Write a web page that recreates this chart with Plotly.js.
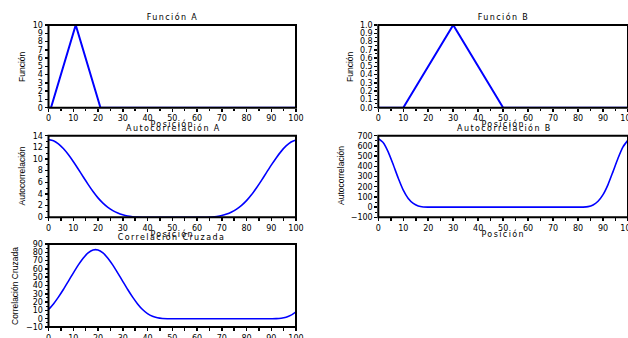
<!DOCTYPE html>
<html>
<head>
<meta charset="utf-8">
<script src="https://cdn.plot.ly/plotly-3.0.1.min.js"></script>
<style>
html,body{margin:0;padding:0;background:#fff;}
#chart{width:628px;height:338px;}
</style>
</head>
<body>
<div id="chart"></div>
<script>
// ---- data ----
const funcAx = [0, 1, 11, 21, 100];
const funcAy = [0, 0, 10, 0, 0];
const funcBx = [0, 10, 30, 50, 100];
const funcBy = [0, 0, 1, 0, 0];

const lagX = [0,2,4,6,8,10,12,14,16,18,20,22,24,26,28,30,32,34,36,38,40,42,44,46,48,50,
              52,54,56,58,60,62,64,66,68,70,72,74,76,78,80,82,84,86,88,90,92,94,96,98,100];

const autoA = [13.33,13.14,12.61,11.80,10.77,9.58,8.29,6.96,5.65,4.42,3.33,2.43,1.71,1.14,0.72,0.42,0.21,0.09,0.03,0.0,0,0,0,0,0,0,
               0,0,0,0,0,0,0.01,0.05,0.14,0.30,0.55,0.92,1.41,2.05,2.86,3.86,5.03,6.30,7.63,8.95,10.19,11.31,12.24,12.92,13.28];

const autoB = [670,631,539,415,283,167,85,36,11,1.3,0,0,0,0,0,0,0,0,0,0,0,0,0,0,0,0,
               0,0,0,0,0,0,0,0,0,0,0,0,0,0,0,0.2,4.5,21,57,122,221,348,479,590,657];

const cross = [11.08,17.86,26.04,35.23,45.01,54.98,64.55,72.92,79.28,82.85,82.85,79.28,72.92,64.55,54.98,45.01,35.23,26.04,17.86,11.08,6.08,2.86,1.04,0.23,0.01,0,
               0,0,0,0,0,0,0,0,0,0,0,0,0,0,0,0,0,0,0,0,0.07,0.53,1.80,4.27,8.33];

const panelTitles = ['Función A','Función B','Autocorrelación A','Autocorrelación B','Correlación Cruzada'];
const yTitles = ['Función','Función','Autocorrelación','Autocorrelación','Correlación Cruzada'];
const xTitle = 'Posición';

// ---- layout helpers ----
const W = 628, H = 338;
const px = v => v / W;
const py = v => 1 - v / H;
const blue = '#0000ff';
const tickFont = {family:'DejaVu Sans, sans-serif', size:8, color:'#000'};

function xa(domain, anchor){
  return {domain:domain, anchor:anchor, range:[0,100], dtick:10, tick0:0,
    showgrid:false, zeroline:false, showline:false,
    ticks:'outside', ticklen:3, tickwidth:1.5, tickcolor:'#000', tickfont:tickFont,
    ticklabeloverflow:'allow',
    minor:{dtick:5, ticks:'outside', ticklen:2.5, tickwidth:1.5, tickcolor:'#000'}, fixedrange:true};
}
function ya(domain, anchor, range, dtick, fmt){
  const o = {domain:domain, anchor:anchor, range:range, dtick:dtick, tick0:0,
    showgrid:false, zeroline:false, showline:false,
    ticks:'outside', ticklen:3, tickwidth:1.5, tickcolor:'#000', tickfont:tickFont,
    ticklabeloverflow:'allow',
    minor:{dtick:dtick/2, ticks:'outside', ticklen:2, tickwidth:1, tickcolor:'#000'}, fixedrange:true};
  if (fmt) o.tickformat = fmt;
  return o;
}

const dL = [px(48.5), px(296)];
const dR = [px(378.3), px(628)];
const row1 = [py(107.7), py(25)];
const row2 = [py(217.3), py(135.7)];
const row3 = [py(327), py(244)];

const lineW = 2, curveW = 1.6;
const traces = [
  {x:funcAx, y:funcAy, xaxis:'x', yaxis:'y', mode:'lines', line:{color:blue, width:lineW}},
  {x:funcBx, y:funcBy, xaxis:'x2', yaxis:'y2', mode:'lines', line:{color:blue, width:lineW}},
  {x:lagX, y:autoA, xaxis:'x3', yaxis:'y3', mode:'lines', line:{color:blue, width:curveW, shape:'spline', smoothing:0.6}},
  {x:lagX, y:autoB, xaxis:'x4', yaxis:'y4', mode:'lines', line:{color:blue, width:curveW, shape:'spline', smoothing:0.6}},
  {x:lagX, y:cross, xaxis:'x5', yaxis:'y5', mode:'lines', line:{color:blue, width:curveW, shape:'spline', smoothing:0.6}}
];

const titleFont = {family:'DejaVu Sans, sans-serif', size:8, color:'#000'};
const yTitleFont = {family:'Liberation Sans Narrow, Arial Narrow, Liberation Sans, sans-serif', size:8.5, color:'#000'};

function ann(text, cx, cy, font, angle){
  return {text:text, xref:'paper', yref:'paper', x:px(cx), y:py(cy), xanchor:'center', yanchor:'middle',
    showarrow:false, font:font, textangle:angle||0};
}

const spacedCount = 10; // first annotations get letter spacing (panel titles and x titles)
const annotations = [
  ann(panelTitles[0], 172, 17, titleFont),
  ann(panelTitles[1], 503, 17, titleFont),
  ann(panelTitles[2], 173, 127.5, titleFont),
  ann(panelTitles[3], 504, 127.5, titleFont),
  ann(panelTitles[4], 171, 236.5, titleFont),
  ann(xTitle, 172, 123.5, titleFont),
  ann(xTitle, 503, 123.5, titleFont),
  ann(xTitle, 172, 234, titleFont),
  ann(xTitle, 503, 233.5, titleFont),
  ann(xTitle, 172, 345, titleFont),
  ann(yTitles[0], 22, 67, yTitleFont, -90),
  ann(yTitles[1], 350, 67, yTitleFont, -90),
  ann(yTitles[2], 21.5, 176, yTitleFont, -90),
  ann(yTitles[3], 341, 176, yTitleFont, -90),
  ann(yTitles[4], 15, 286, yTitleFont, -90)
];

const shapes = ['', '2', '3', '4', '5'].map(function(s){
  return {type:'rect', xref:'x' + s + ' domain', yref:'y' + s + ' domain', x0:0, x1:1, y0:0, y1:1,
    line:{color:'#000', width:2}, fillcolor:'rgba(0,0,0,0)', layer:'above'};
});

const layout = {
  width:W, height:H, margin:{l:0, r:0, t:0, b:0}, showlegend:false,
  paper_bgcolor:'#fff', plot_bgcolor:'#fff',
  xaxis:xa(dL,'y'), yaxis:ya(row1,'x',[0,10],1),
  xaxis2:xa(dR,'y2'), yaxis2:ya(row1,'x2',[0,1],0.1,'.1f'),
  xaxis3:xa(dL,'y3'), yaxis3:ya(row2,'x3',[0,14],2),
  xaxis4:xa(dR,'y4'), yaxis4:ya(row2,'x4',[-100,700],100),
  xaxis5:xa(dL,'y5'), yaxis5:ya(row3,'x5',[-10,90],10),
  annotations:annotations, shapes:shapes
};
layout.yaxis.minor = {ticks:''};

Plotly.newPlot('chart', traces, layout, {staticPlot:true, displayModeBar:false}).then(function(){
  document.querySelectorAll('.annotation').forEach(function(g){
    const idx = parseInt(g.getAttribute('data-index'), 10);
    if (idx < spacedCount) {
      const t = g.querySelector('.annotation-text');
      if (t) t.style.letterSpacing = '1.4px';
    }
  });
});
</script>
</body>
</html>
